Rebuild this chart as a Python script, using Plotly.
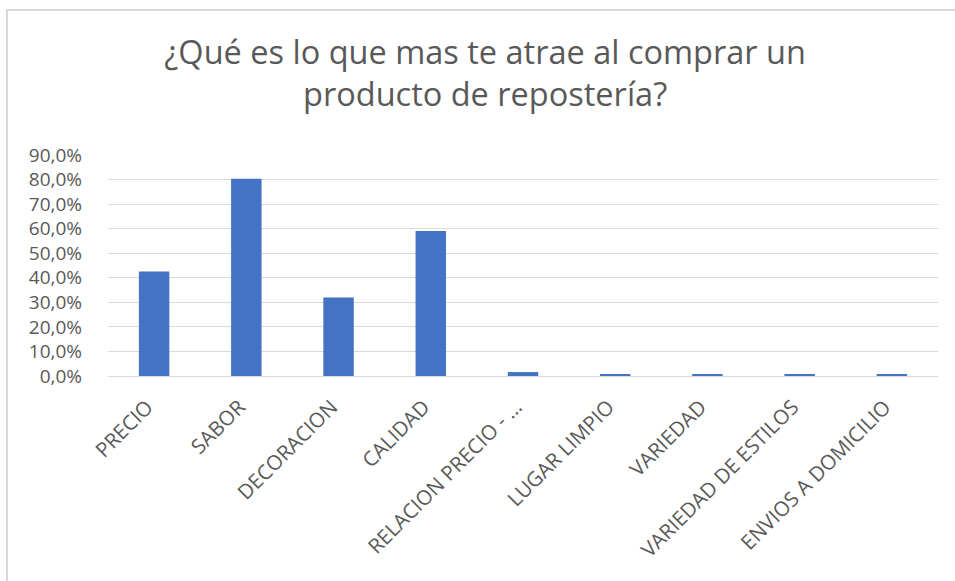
import plotly.graph_objects as go

# Survey answers: share of respondents choosing each attribute
categories = [
    "PRECIO", "SABOR", "DECORACION", "CALIDAD", "RELACION PRECIO - …",
    "LUGAR LIMPIO", "VARIEDAD", "VARIEDAD DE ESTILOS", "ENVIOS A DOMICILIO",
]
shares = [0.426, 0.803, 0.320, 0.590, 0.016, 0.008, 0.008, 0.008, 0.008]

y_ticks = [i / 10 for i in range(10)]
y_tick_labels = [f"{v * 100:.1f}".replace(".", ",") + "%" for v in y_ticks]

title_text = "¿Qué es lo que mas te atrae al comprar un<br>producto de repostería?"

grey_text = "#595959"
font_family = "Open Sans, Lato, sans-serif"

fig = go.Figure(
    go.Bar(
        x=categories,
        y=shares,
        marker=dict(color="#4472C4", line=dict(width=0)),
        width=0.33,
    )
)

fig.update_layout(
    width=955,
    height=581,
    margin=dict(l=108, r=17, t=155, b=205),
    paper_bgcolor="white",
    plot_bgcolor="white",
    showlegend=False,
    font=dict(family=font_family, color=grey_text),
    title=dict(
        text=title_text,
        x=0.508,
        xanchor="center",
        y=0.89,
        yanchor="top",
        font=dict(size=32.5, color=grey_text, family=font_family),
    ),
    shapes=[
        dict(
            type="rect", xref="paper", yref="paper",
            x0=-0.1217, x1=1.2, y0=-1.0, y1=1.656,
            line=dict(color="#d9d9d9", width=2),
            fillcolor="rgba(0,0,0,0)", layer="below",
        )
    ],
)

fig.update_xaxes(
    tickangle=-45,
    tickfont=dict(size=20.5, color=grey_text, family=font_family),
    showline=True,
    linecolor="#d9d9d9",
    linewidth=1,
    ticks="",
    showgrid=False,
    automargin=False,
    ticklabelstandoff=10,
    ticklabelshift=-7,
)

fig.update_yaxes(
    range=[0, 0.9],
    tickvals=y_ticks,
    ticktext=y_tick_labels,
    tickfont=dict(size=19, color=grey_text, family=font_family),
    showgrid=True,
    gridcolor="#d9d9d9",
    gridwidth=1,
    zeroline=False,
    showline=False,
    ticks="",
    ticklabelstandoff=25,
    automargin=False,
)

fig.write_html("out.html")
